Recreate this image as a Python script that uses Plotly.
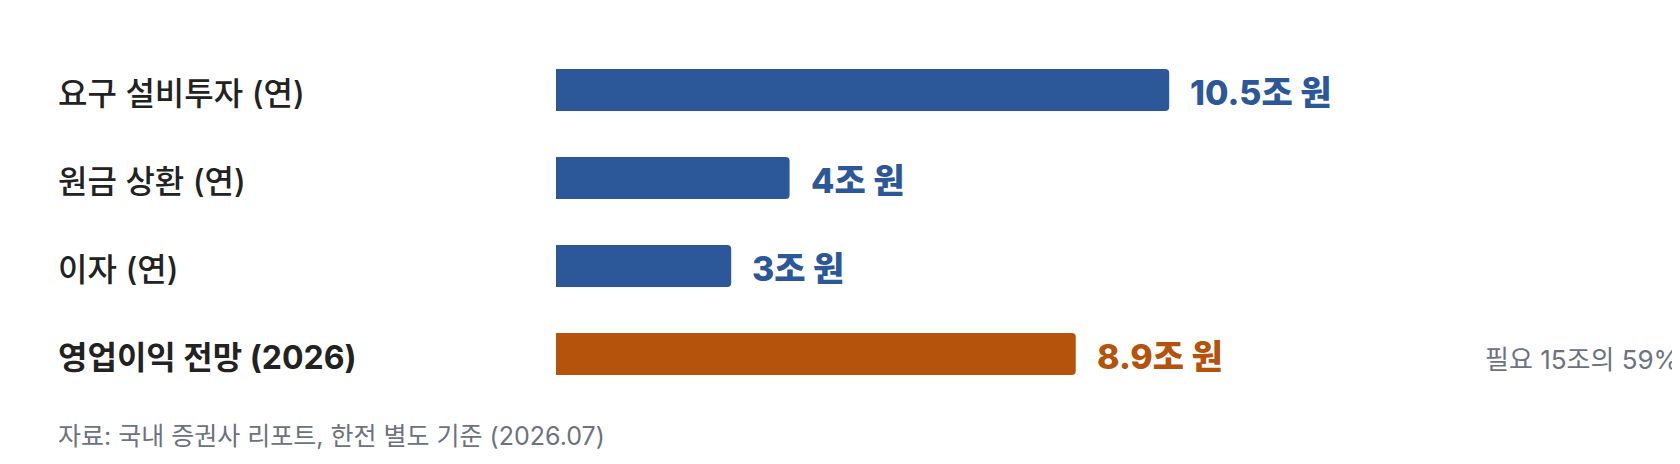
import plotly.graph_objects as go

categories = ["요구 설비투자 (연)", "원금 상환 (연)", "이자 (연)", "영업이익 전망 (2026)"]
values = [10.5, 4, 3, 8.9]
value_labels = ["10.5조 원", "4조 원", "3조 원", "8.9조 원"]
bar_colors = ["#2c5899", "#2c5899", "#2c5899", "#b5520b"]
label_weights = [500, 500, 500, 700]
side_note = "필요 15조의 59%"
source_note = "자료: 국내 증권사 리포트, 한전 별도 기준 (2026.07)"

FONT = "Inter, 'Noto Sans CJK KR', sans-serif"

# page body has an 8px margin, so the figure is 8px smaller
W, H = 1672, 456
LEFT = 548          # x pixel of the bar baseline
PX_PER_UNIT = 58.4
TOP, BOTTOM = 38, 390

fig = go.Figure(
    go.Bar(
        x=values,
        y=categories,
        orientation="h",
        width=0.477,
        marker=dict(color=bar_colors, cornerradius=4, line=dict(width=0)),
        hoverinfo="skip",
    )
)

# category names, left aligned
for cat, w in zip(categories, label_weights):
    fig.add_annotation(
        x=(48 - LEFT) / (W - LEFT), xref="paper", y=cat, yref="y",
        text=cat, showarrow=False, xanchor="left", yanchor="middle", yshift=-3,
        font=dict(family=FONT, size=32, color="#222222", weight=w),
    )

# value labels next to the bars
for cat, v, lab, c in zip(categories, values, value_labels, bar_colors):
    fig.add_annotation(
        x=v, y=cat, text=lab, showarrow=False,
        xanchor="left", yanchor="middle", xshift=19, yshift=-2,
        font=dict(family=FONT, size=34, color=c, weight=800),
    )

fig.add_annotation(
    x=(1475 - LEFT) / (W - LEFT), xref="paper", y=categories[-1], yref="y",
    text=side_note, showarrow=False, xanchor="left", yanchor="middle", yshift=-5,
    font=dict(family=FONT, size=26, color="#6b7280"),
)

fig.add_annotation(
    x=(48 - LEFT) / (W - LEFT), xref="paper", y=(BOTTOM - 428) / (BOTTOM - TOP), yref="paper",
    text=source_note, showarrow=False, xanchor="left", yanchor="middle",
    font=dict(family=FONT, size=25, color="#6b7280"),
)

fig.update_layout(
    width=W,
    height=H,
    margin=dict(l=LEFT, r=0, t=TOP, b=H - BOTTOM, pad=0),
    paper_bgcolor="white",
    plot_bgcolor="white",
    showlegend=False,
    xaxis=dict(range=[0, (W - LEFT) / PX_PER_UNIT], visible=False, fixedrange=True),
    yaxis=dict(categoryorder="array", categoryarray=categories, range=[3.5, -0.5],
               visible=False, fixedrange=True),
    font=dict(family=FONT),
)

fig.write_html("out.html", config={"displayModeBar": False})
